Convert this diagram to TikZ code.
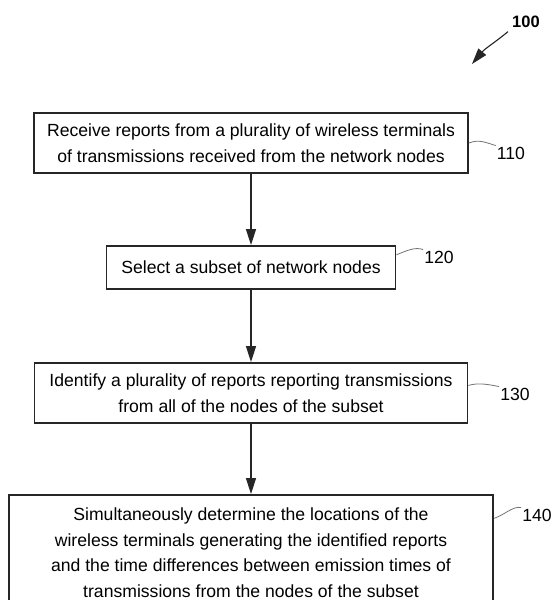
\documentclass[tikz,border=0pt]{standalone}
\usepackage{fontspec}
\setmainfont{Liberation Sans}
\usetikzlibrary{arrows.meta, positioning}

\begin{document}
\begin{tikzpicture}[x=1pt, y=1pt, node distance=125pt, on grid,
   >={Triangle[length=16pt, width=10pt]},
   stepbox/.style={draw=black!85, line width=1.9pt, align=center, inner sep=0pt,
      font=\fontsize{17.6}{25.5}\selectfont},
   reflabel/.style={font=\fontsize{17.6}{20}\selectfont, inner sep=1pt},
   flowline/.style={line width=1.3pt, black!85},
   leader/.style={draw=black!55, line width=0.8pt}]

   \useasboundingbox (0,0) rectangle (555,-600);

   \node[stepbox, minimum width=434pt, minimum height=60pt] (b110) at (251,-143)
      {Receive reports from a plurality of wireless terminals\\of transmissions received from the network nodes};
   \node[stepbox, minimum width=289pt, minimum height=43pt] (b120) [below=124.5pt of b110]
      {Select a subset of network nodes};
   \node[stepbox, minimum width=433pt, minimum height=60pt] (b130) [below=125.5pt of b120]
      {Identify a plurality of reports reporting transmissions\\from all of the nodes of the subset};
   \node[stepbox, minimum width=484pt, minimum height=115pt] (b140) [below=159.5pt of b130]
      {Simultaneously determine the locations of the\\wireless terminals generating the identified reports\\and the time differences between emission times of\\transmissions from the nodes of the subset};

   \node[reflabel] (l110) at (511,-153) {110};
   \node[reflabel] (l120) at (439,-257) {120};
   \node[reflabel] (l130) at (515,-394) {130};
   \node[reflabel] (l140) at (537,-515) {140};
   \node[reflabel, font=\bfseries\fontsize{16.5}{20}\selectfont] (l100) at (526,-22) {100};
   \coordinate (c100) at (472,-64);

    \path[->, flowline]
    (b110) edge (b120)
    (b120) edge (b130)
    (b130) edge (b140);

   \draw[leader] (b110.east) .. controls +(10,4) and +(-10,3) .. (l110.north west);
   \draw[leader] (b120.5) .. controls +(10,4) and +(-8,3) .. (l120.north west);
   \draw[leader] (b130.2) .. controls +(10,3) and +(-10,2) .. (l130.north west);
   \draw[leader] (b140.8) .. controls +(10,3) and +(-8,2) .. (l140.north west);
   \draw[->, flowline, line width=1.1pt, shorten <=4pt] (l100.south west) to[out=220, in=50] (c100);

\end{tikzpicture}
\end{document}
